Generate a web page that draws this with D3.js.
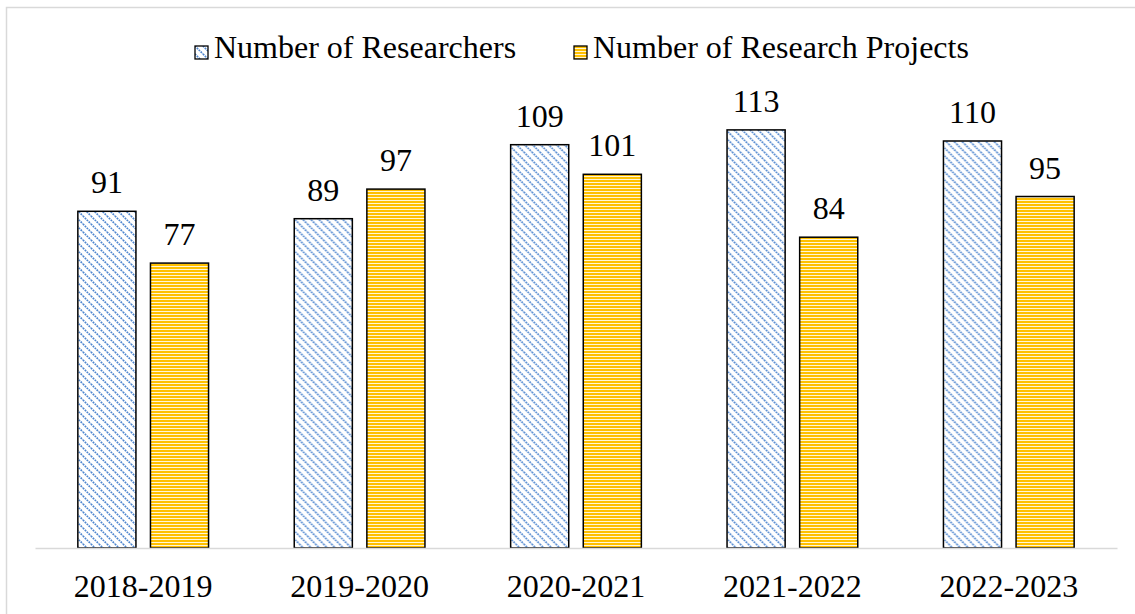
<!DOCTYPE html>
<html>
<head>
<meta charset="utf-8">
<script src="https://cdn.jsdelivr.net/npm/d3@7"></script>
<style>
  body { margin: 0; background: #fff; }
  svg { display: block; }
  text { font-family: "Liberation Serif", "Times New Roman", Times, serif; }
</style>
</head>
<body>
<svg id="chart" width="1135" height="614"></svg>
<script>
// chart data
const years = ["2018-2019", "2019-2020", "2020-2021", "2021-2022", "2022-2023"];
const seriesNames = ["Number of Researchers", "Number of Research Projects"];
const researchers = [91, 89, 109, 113, 110];
const projects = [77, 97, 101, 84, 95];

const svg = d3.select("#chart");
const width = 1135, height = 614;
const serif = "'Liberation Serif', 'Times New Roman', Times, serif";
const fontSize = 32;

// frame
svg.append("rect")
  .attr("x", 6.5).attr("y", 7.5)
  .attr("width", width).attr("height", height)
  .attr("fill", "none")
  .attr("stroke", "#d9d9d9")
  .attr("stroke-width", 1.5);

// patterns
let defs = svg.append("defs");

let pBlue = defs.append("pattern")
  .attr("id", "pat-blue")
  .attr("patternUnits", "userSpaceOnUse")
  .attr("width", 8).attr("height", 8);
pBlue.append("rect").attr("width", 8).attr("height", 8).attr("fill", "#fff");
pBlue.append("path")
  .attr("d", "M-2,-2 L10,10 M-2,6 L2,10 M6,-2 L10,2")
  .attr("stroke", "#4f86cf")
  .attr("stroke-width", 1.7)
  .attr("stroke-dasharray", "1.8,0.9");

let pYellow = defs.append("pattern")
  .attr("id", "pat-yellow")
  .attr("patternUnits", "userSpaceOnUse")
  .attr("width", 8).attr("height", 3);
pYellow.append("rect").attr("width", 8).attr("height", 3).attr("fill", "#fff6d6");
pYellow.append("rect").attr("y", 0).attr("width", 8).attr("height", 2).attr("fill", "#ffc000");

const fills = ["url(#pat-blue)", "url(#pat-yellow)"];

// scales
let x0 = d3.scaleBand()
  .domain(years)
  .range([35, 1117]);

let x1 = d3.scaleBand()
  .domain([0, 1])
  .range([0, x0.bandwidth()])
  .paddingInner(0.2)
  .paddingOuter(0.59);

let y = d3.scaleLinear()
  .domain([0, 140])
  .range([548, 30]);

let rows = years.map((yr, i) => ({ year: yr, values: [researchers[i], projects[i]] }));

let groups = svg.append("g")
  .selectAll("g")
  .data(rows)
  .enter().append("g")
  .attr("transform", d => `translate(${x0(d.year)},0)`);

groups.selectAll("rect")
  .data(d => d.values.map((v, k) => ({ k: k, v: v })))
  .enter().append("rect")
  .attr("x", d => x1(d.k))
  .attr("y", d => y(d.v))
  .attr("width", x1.bandwidth())
  .attr("height", d => y(0) - y(d.v))
  .attr("fill", d => fills[d.k])
  .attr("stroke", "#000")
  .attr("stroke-width", 1.5);

groups.selectAll("text")
  .data(d => d.values.map((v, k) => ({ k: k, v: v })))
  .enter().append("text")
  .attr("x", d => x1(d.k) + x1.bandwidth() / 2)
  .attr("y", d => y(d.v) - 18)
  .attr("text-anchor", "middle")
  .attr("font-family", serif)
  .attr("font-size", fontSize)
  .attr("fill", "#000")
  .text(d => d.v);

// x axis
let xAxis = svg.append("g")
  .attr("transform", `translate(0,${y(0)})`)
  .call(d3.axisBottom(x0).tickSize(0).tickPadding(26));
xAxis.select(".domain").attr("stroke", "#d9d9d9").attr("stroke-width", 1.5);
xAxis.selectAll("text")
  .attr("font-size", fontSize)
  .attr("font-family", serif)
  .attr("fill", "#000")
  .attr("dy", "0.71em");

// legend
let legendX = [195, 574];
let legend = svg.append("g");
seriesNames.forEach((name, k) => {
  let g = legend.append("g").attr("transform", `translate(${legendX[k]},46)`);
  g.append("rect")
    .attr("width", 13).attr("height", 13)
    .attr("fill", fills[k])
    .attr("stroke", "#000")
    .attr("stroke-width", 1.3);
  g.append("text")
    .attr("x", 19).attr("y", 12)
    .attr("font-family", serif)
    .attr("font-size", fontSize)
    .attr("fill", "#000")
    .text(name);
});
</script>
</body>
</html>
